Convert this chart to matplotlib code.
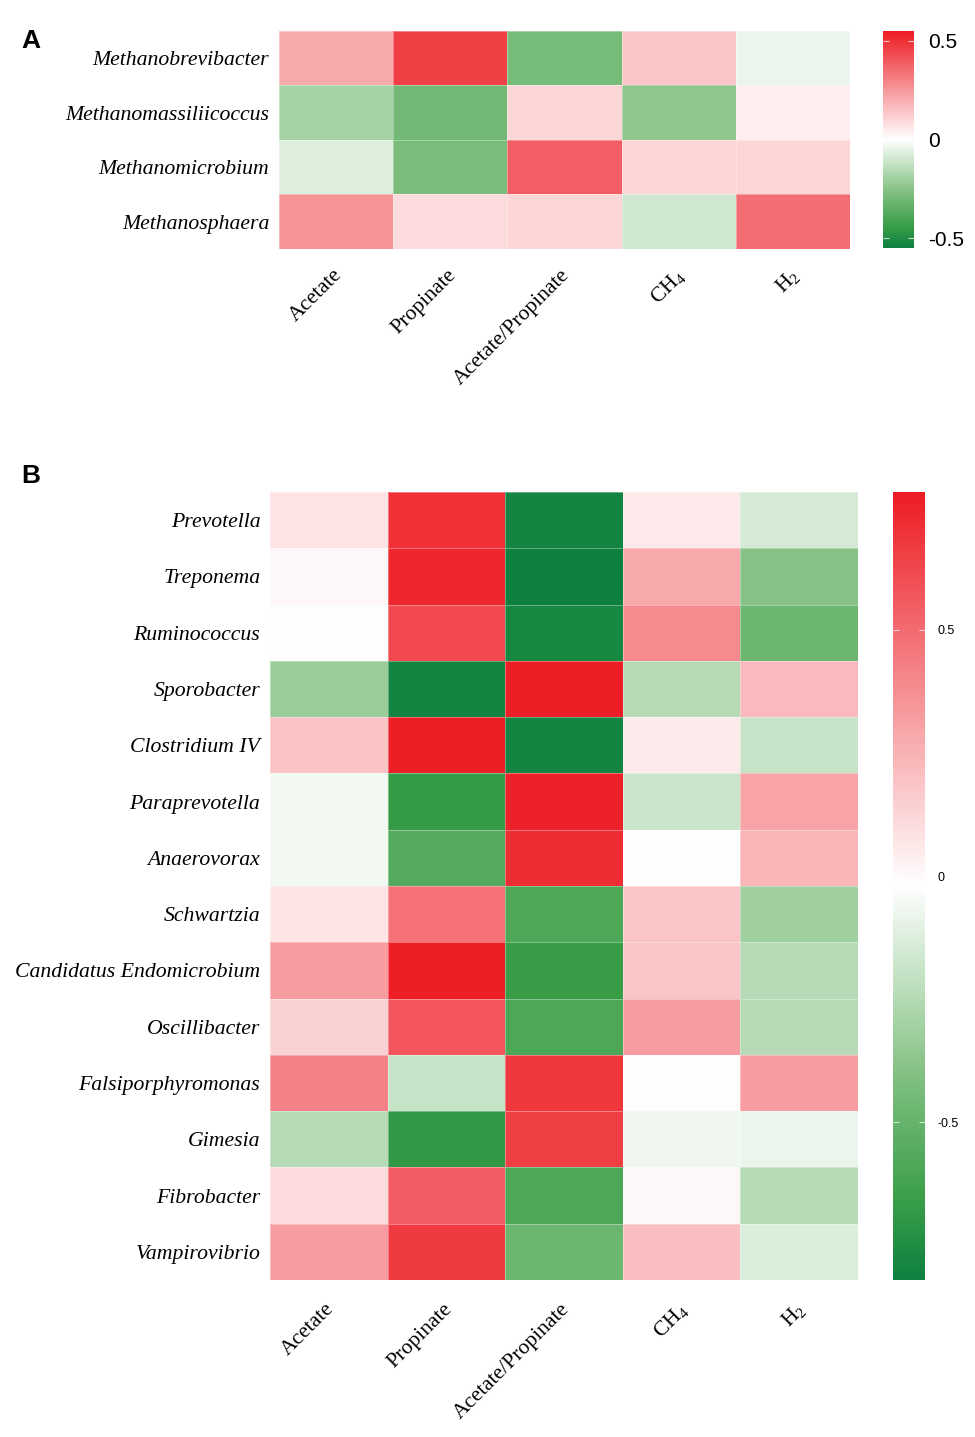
import numpy as np
import matplotlib
matplotlib.use("Agg")
import matplotlib.pyplot as plt
from matplotlib.colors import LinearSegmentedColormap
from matplotlib.transforms import ScaledTranslation

plt.rcParams['mathtext.fontset'] = 'custom'
plt.rcParams['mathtext.rm'] = 'Liberation Serif'

# columns shared by both panels
variables = ["Acetate", "Propinate", "Acetate/Propinate", "CH$_4$", "H$_2$"]

# panel A: methanogens
genera_a = ["Methanobrevibacter", "Methanomassiliicoccus",
            "Methanomicrobium", "Methanosphaera"]
corr_a = [
    [0.21, 0.46, -0.29, 0.14, -0.04],
    [-0.19, -0.30, 0.10, -0.24, 0.04],
    [-0.07, -0.28, 0.39, 0.10, 0.10],
    [0.26, 0.09, 0.10, -0.10, 0.35],
]

# panel B: bacteria
genera_b = ["Prevotella", "Treponema", "Ruminococcus", "Sporobacter",
            "Clostridium IV", "Paraprevotella", "Anaerovorax", "Schwartzia",
            "Candidatus Endomicrobium", "Oscillibacter", "Falsiporphyromonas",
            "Gimesia", "Fibrobacter", "Vampirovibrio"]
corr_b = [
    [0.08, 0.71, -0.80, 0.06, -0.15],
    [0.01, 0.74, -0.82, 0.28, -0.39],
    [-0.02, 0.62, -0.78, 0.39, -0.48],
    [-0.33, -0.80, 0.77, -0.25, 0.22],
    [0.19, 0.77, -0.80, 0.05, -0.19],
    [-0.06, -0.67, 0.76, -0.18, 0.30],
    [-0.06, -0.56, 0.72, -0.02, 0.24],
    [0.07, 0.48, -0.59, 0.18, -0.31],
    [0.33, 0.77, -0.66, 0.18, -0.25],
    [0.14, 0.58, -0.59, 0.33, -0.25],
    [0.42, -0.19, 0.68, -0.01, 0.33],
    [-0.25, -0.69, 0.66, -0.07, -0.08],
    [0.11, 0.55, -0.59, 0.01, -0.24],
    [0.33, 0.67, -0.48, 0.21, -0.13],
]

cmap = LinearSegmentedColormap.from_list(
    "gwr",
    [(0.0, "#0e8040"), (0.1, "#3a9e48"), (0.25, "#7dbe7d"),
     (0.5, "#ffffff"), (1.0, "#ed1c24")])

fig = plt.figure(figsize=(9.75, 14.37), dpi=100)
W, H = 975, 1437


def box(x0, y0, x1, y1):
    return [x0 / W, 1 - y1 / H, (x1 - x0) / W, (y1 - y0) / H]


def heat(ax_box, cb_box, rows, data, vmin, vmax, cb_size, label_pad, cb_pad):
    data = np.array(data)
    ax = fig.add_axes(box(*ax_box))
    mesh = ax.pcolormesh(np.arange(len(variables) + 1), np.arange(len(rows) + 1),
                         data, cmap=cmap, vmin=vmin, vmax=vmax,
                         edgecolor=(1, 1, 1, 0.35), linewidth=0.4)
    ax.set_xlim(0, len(variables))
    ax.set_ylim(len(rows), 0)
    ax.set_yticks(np.arange(len(rows)) + 0.5)
    ax.set_yticklabels(rows, family="Liberation Serif", style="italic", fontsize=15.7)
    ax.set_xticks(np.arange(len(variables)) + 0.5)
    ax.set_xticklabels(variables, family="Liberation Serif", fontsize=15.6,
                       rotation=45, ha="right", rotation_mode="anchor")
    ax.tick_params(length=0, pad=label_pad)
    ax.tick_params(axis="y", pad=7)
    shift = ScaledTranslation(-4 / 100, 0, fig.dpi_scale_trans)
    for lab in ax.get_xticklabels():
        lab.set_transform(lab.get_transform() + shift)
    for s in ax.spines.values():
        s.set_visible(False)

    cax = fig.add_axes(box(*cb_box))
    cb = fig.colorbar(mesh, cax=cax, ticks=[-0.5, 0, 0.5])
    cb.outline.set_visible(False)
    cb.ax.set_yticklabels(["-0.5", "0", "0.5"], family="Liberation Sans",
                          fontsize=cb_size)
    cb.ax.tick_params(direction="in", length=4, width=0.8, color=(1, 1, 1, 0.7),
                      left=True, right=True, pad=cb_pad)
    return ax


heat((279, 31, 850, 249), (883, 31, 914, 248), genera_a, corr_a,
     -0.55, 0.55, 15, 12, 10)
heat((270, 492, 858, 1280), (893, 492, 925, 1280), genera_b, corr_b,
     -0.82, 0.78, 9, 14, 9)

fig.text(21 / W, 1 - 48 / H, "A", family="Liberation Sans", weight="bold",
         fontsize=19, va="baseline")
fig.text(21 / W, 1 - 483 / H, "B", family="Liberation Sans", weight="bold",
         fontsize=19, va="baseline")

fig.savefig("out.png", dpi=100)
